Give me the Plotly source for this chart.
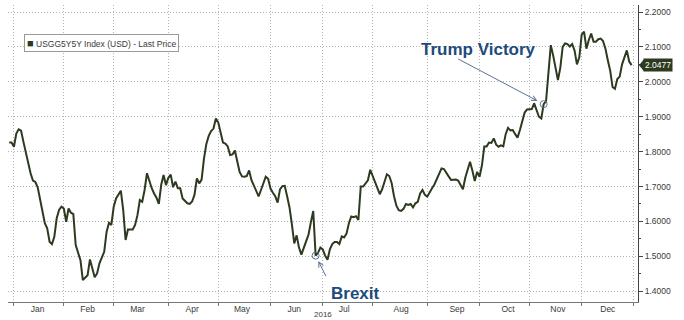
import numpy as np
import pandas as pd
import plotly.graph_objects as go

# ---------------- data ----------------
# trading-day offset from 2016-01-01 (weekdays), and the USGG5Y5Y last price
trade_day = [-2, -1, 0, 1, 2, 3, 4, 5, 6, 7, 8, 9, 10, 12, 13, 14, 15, 16, 17, 18,
             19, 20, 21, 22, 23, 24, 25, 26, 27, 28, 29, 31, 32, 34, 35, 36, 38, 39, 40, 41,
             42, 43, 45, 46, 47, 48, 50, 51, 52, 53, 54, 55, 56, 57, 58, 59, 60, 61, 62, 63,
             64, 65, 66, 67, 68, 69, 70, 71, 72, 73, 74, 75, 76, 77, 78, 79, 80, 81, 82, 83,
             84, 85, 86, 87, 88, 89, 90, 91, 92, 93, 94, 95, 96, 97, 98, 99, 100, 101, 102, 103,
             104, 105, 106, 107, 108, 109, 110, 111, 112, 113, 114, 115, 116, 117, 118, 119, 120, 121, 122, 123,
             124, 125, 126, 127, 128, 129, 130, 131, 132, 133, 134, 135, 136, 137, 138, 139, 140, 141, 142, 143,
             144, 145, 146, 147, 148, 149, 150, 151, 152, 153, 154, 155, 156, 157, 158, 159, 160, 161, 162, 163,
             164, 165, 166, 167, 168, 169, 170, 171, 172, 173, 174, 175, 176, 177, 178, 179, 180, 181, 182, 183,
             184, 185, 186, 187, 188, 189, 190, 191, 192, 193, 194, 195, 196, 197, 198, 199, 200, 201, 202, 203,
             204, 205, 206, 207, 208, 209, 210, 211, 212, 213, 214, 215, 216, 217, 218, 219, 220, 221, 222, 223,
             224, 225, 226, 227, 228, 229, 230, 231, 232, 233, 234, 235, 236, 237, 238, 239, 240, 241, 242, 243,
             244, 245, 246, 247, 248, 249, 250, 251, 252, 253, 254, 255, 256, 257, 258, 259, 260]

yield_5y5y = [1.826, 1.826, 1.814, 1.852, 1.864, 1.860, 1.828, 1.797, 1.762, 1.738, 1.717, 1.713, 1.698, 1.633, 1.595, 1.580, 1.542, 1.535, 1.556, 1.609,
              1.633, 1.642, 1.637, 1.599, 1.637, 1.625, 1.621, 1.532, 1.513, 1.489, 1.432, 1.446, 1.491, 1.440, 1.451, 1.480, 1.513, 1.570, 1.596, 1.590,
              1.642, 1.666, 1.688, 1.633, 1.547, 1.577, 1.577, 1.590, 1.618, 1.661, 1.656, 1.690, 1.738, 1.715, 1.695, 1.680, 1.668, 1.650, 1.705, 1.733,
              1.704, 1.725, 1.734, 1.698, 1.714, 1.695, 1.695, 1.666, 1.658, 1.652, 1.650, 1.657, 1.676, 1.723, 1.709, 1.720, 1.780, 1.822, 1.845, 1.859,
              1.866, 1.895, 1.884, 1.855, 1.826, 1.823, 1.815, 1.790, 1.792, 1.803, 1.776, 1.742, 1.729, 1.728, 1.730, 1.746, 1.718, 1.704, 1.685, 1.672,
              1.690, 1.708, 1.728, 1.722, 1.694, 1.682, 1.672, 1.654, 1.692, 1.701, 1.702, 1.672, 1.640, 1.592, 1.537, 1.560, 1.525, 1.505, 1.525, 1.541,
              1.562, 1.598, 1.630, 1.502, 1.510, 1.525, 1.520, 1.502, 1.490, 1.520, 1.535, 1.541, 1.541, 1.535, 1.557, 1.554, 1.565, 1.595, 1.614, 1.612,
              1.615, 1.604, 1.700, 1.700, 1.710, 1.718, 1.748, 1.730, 1.712, 1.693, 1.678, 1.692, 1.716, 1.735, 1.730, 1.710, 1.672, 1.645, 1.632, 1.630,
              1.636, 1.650, 1.647, 1.650, 1.640, 1.652, 1.656, 1.680, 1.690, 1.676, 1.671, 1.685, 1.695, 1.706, 1.722, 1.740, 1.752, 1.750, 1.738, 1.729,
              1.719, 1.720, 1.720, 1.717, 1.705, 1.692, 1.725, 1.750, 1.771, 1.745, 1.716, 1.742, 1.728, 1.760, 1.815, 1.815, 1.826, 1.825, 1.838, 1.820,
              1.814, 1.818, 1.815, 1.850, 1.868, 1.861, 1.862, 1.850, 1.840, 1.862, 1.888, 1.912, 1.921, 1.921, 1.922, 1.938, 1.918, 1.900, 1.895, 1.936,
              1.945, 2.030, 2.105, 2.075, 2.035, 2.005, 2.040, 2.100, 2.110, 2.108, 2.101, 2.108, 2.090, 2.050, 2.070, 2.135, 2.144, 2.095, 2.120, 2.138,
              2.115, 2.115, 2.122, 2.124, 2.117, 2.095, 2.062, 2.032, 1.985, 1.980, 2.008, 2.015, 2.050, 2.072, 2.090, 2.058, 2.0477]

month_starts = ["2016-01-01", "2016-02-01", "2016-03-01", "2016-04-01", "2016-05-02", "2016-06-01",
                "2016-07-01", "2016-08-01", "2016-09-01", "2016-10-03", "2016-11-01", "2016-12-01", "2017-01-02"]
month_label_dates = ["2016-01-15", "2016-02-15", "2016-03-15", "2016-04-15", "2016-05-16", "2016-06-15",
                     "2016-07-14", "2016-08-17", "2016-09-19 12:00", "2016-10-19", "2016-11-17", "2016-12-16"]
month_labels = ["Jan", "Feb", "Mar", "Apr", "May", "Jun", "Jul", "Aug", "Sep", "Oct", "Nov", "Dec"]
year_label = "2016"
event_days = [127, 223]
event_names = ["Brexit", "Trump Victory"]
series_name = "USGG5Y5Y Index (USD) - Last Price"
last_price = 2.0477

# ---------------- build ----------------
bdays = pd.bdate_range("2015-12-30", "2017-01-06")
dates = bdays[np.array(trade_day) + 2]
lookup = dict(zip(trade_day, yield_5y5y))
ev_dates = bdays[np.array(event_days) + 2]
ev_vals = [lookup[d] for d in event_days]

LINE = "#2c3a1f"
GRID = "#b4b4b4"
TXT = "#3a3a3a"
ANN = "#1d4b7b"
ARROW = "#5f7394"
FONT = "Liberation Sans, Arial, sans-serif"

fig = go.Figure()
fig.add_trace(go.Scatter(x=dates, y=yield_5y5y, mode="lines",
                         line=dict(color=LINE, width=2), showlegend=False, hoverinfo="skip"))
fig.add_trace(go.Scatter(x=ev_dates, y=ev_vals, mode="markers",
                         marker=dict(symbol="circle-open", size=7, color=ARROW, line=dict(width=1)),
                         showlegend=False, hoverinfo="skip"))
fig.add_trace(go.Scatter(x=[], y=[], xaxis="x2", showlegend=False))

xr = ["2015-12-29 12:00", "2017-01-03 17:00"]
rb = [dict(bounds=["sat", "mon"])]

fig.update_layout(
    width=684, height=320,
    margin=dict(l=8, r=46, t=5, b=18),
    paper_bgcolor="white", plot_bgcolor="white",
    font=dict(family=FONT, size=8.5, color=TXT),
    xaxis=dict(type="date", range=xr, rangebreaks=rb, tickmode="array", tickvals=month_starts,
               showticklabels=False, ticks="outside", ticklen=3, tickcolor="#777",
               showgrid=True, gridcolor=GRID, griddash="1px,2px", gridwidth=1,
               showline=True, linecolor="#777", linewidth=1, zeroline=False),
    xaxis2=dict(type="date", overlaying="x", anchor="y", side="bottom", range=xr, rangebreaks=rb,
                tickmode="array", tickvals=month_label_dates, ticktext=month_labels,
                ticks="", showgrid=False, showline=False, zeroline=False,
                tickfont=dict(family=FONT, size=8.5, color=TXT)),
    yaxis=dict(side="right", range=[1.3691, 2.2201], tickmode="linear", tick0=1.4, dtick=0.1,
               tickformat=".4f", ticks="outside", ticklen=4, tickcolor="#444",
               showline=True, linecolor="#444", linewidth=1,
               showgrid=True, gridcolor=GRID, griddash="1px,2px", gridwidth=1, zeroline=False,
               minor=dict(ticks="outside", ticklen=2, dtick=0.05, tickcolor="#444", showgrid=False),
               tickfont=dict(family=FONT, size=8.5, color=TXT)),
)

annotations = [
    # legend box
    dict(xref="paper", yref="paper", x=0.0254, y=0.902, xanchor="left", yanchor="top",
         text=f"<span style='color:{LINE};font-size:11px'>■</span> {series_name}", showarrow=False,
         font=dict(family=FONT, size=8.5, color=TXT),
         bgcolor="white", bordercolor="#9a9a9a", borderwidth=1, borderpad=2),
    # last price tag
    dict(xref="paper", yref="y", x=1, y=last_price, xanchor="left", yanchor="middle", xshift=5,
         text=f"{last_price:.4f}", showarrow=False,
         font=dict(family=FONT, size=8.5, color="white"), bgcolor=LINE, borderpad=1),
    # event texts
    dict(xref="paper", yref="paper", x=(355 - 8) / 630, y=1 - (293 - 5) / 297,
         xanchor="center", yanchor="middle", text=f"<b>{event_names[0]}</b>", showarrow=False,
         font=dict(family=FONT, size=17, color=ANN)),
    dict(xref="paper", yref="paper", x=(478 - 8) / 630, y=1 - (49 - 5) / 297,
         xanchor="center", yanchor="middle", text=f"<b>{event_names[1]}</b>", showarrow=False,
         font=dict(family=FONT, size=17, color=ANN)),
    # arrows
    dict(x=ev_dates[0], y=ev_vals[0], xref="x", yref="y", text="", showarrow=True,
         ax=11, ay=22, arrowhead=5, arrowsize=1, arrowwidth=1, arrowcolor=ARROW, standoff=6),
    dict(x=ev_dates[1], y=ev_vals[1], xref="x", yref="y", text="", showarrow=True,
         ax=-87, ay=-46, arrowhead=5, arrowsize=1, arrowwidth=1, arrowcolor=ARROW, standoff=7),
    # year
    dict(xref="x", yref="paper", x="2016-07-01", y=0, yshift=-12, xanchor="center", yanchor="middle",
         text=year_label, showarrow=False, font=dict(family=FONT, size=8, color=TXT)),
]
fig.update_layout(annotations=annotations)

fig.add_shape(type="path", xref="paper", yref="y", xsizemode="pixel", ysizemode="pixel",
              xanchor=1, yanchor=last_price, path="M 1,0 L 6,6 L 6,-6 Z",
              fillcolor=LINE, line=dict(width=0), layer="above")

fig.write_html("out.html")
